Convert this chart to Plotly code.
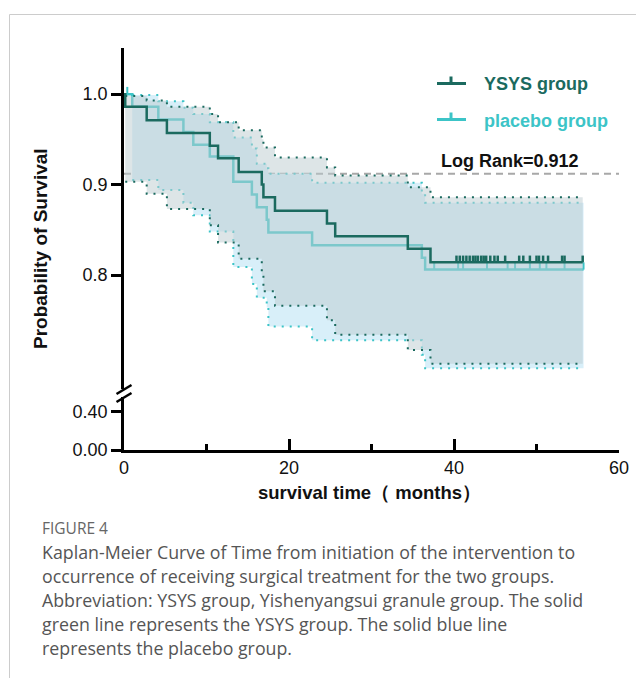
import plotly.graph_objects as go

# ---------------- data ----------------
# YSYS group Kaplan-Meier steps
ysys_times = [0.0, 0.15, 2.75, 5.2, 10.4, 11.4, 13.9, 16.7, 16.9, 18.3, 24.6, 25.6, 34.4, 37.15]
ysys_surv = [1.0, 0.986, 0.971, 0.957, 0.943, 0.929, 0.914, 0.900, 0.886, 0.871, 0.857, 0.843, 0.829, 0.814]
ysys_upper = [1.0, 0.998, 0.993, 0.986, 0.978, 0.969, 0.960, 0.950, 0.941, 0.930, 0.919, 0.910, 0.897, 0.886]
ysys_lower = [1.0, 0.903, 0.890, 0.873, 0.855, 0.836, 0.818, 0.800, 0.782, 0.766, 0.750, 0.734, 0.717, 0.702]
ysys_end = 55.6
ysys_censor = [40.3, 40.7, 41.1, 41.5, 41.9, 42.3, 42.6, 42.9, 43.3, 43.6, 43.9, 44.4, 44.9, 45.3,
               46.2, 47.9, 48.4, 49.2, 50.0, 50.3, 50.8, 51.4, 53.1, 53.4, 55.6]

# placebo group Kaplan-Meier steps
plac_times = [0.0, 1.0, 4.16, 7.2, 8.4, 10.4, 13.25, 15.5, 16.1, 17.3, 17.5, 22.8, 36.1, 36.5]
plac_surv = [1.0, 0.986, 0.972, 0.958, 0.944, 0.931, 0.903, 0.889, 0.875, 0.861, 0.847, 0.833, 0.819, 0.806]
plac_upper = [1.0, 0.999, 0.992, 0.985, 0.978, 0.969, 0.952, 0.940, 0.923, 0.918, 0.912, 0.902, 0.890, 0.880]
plac_lower = [1.0, 0.905, 0.894, 0.880, 0.866, 0.848, 0.809, 0.790, 0.775, 0.764, 0.743, 0.728, 0.712, 0.697]
plac_end = 55.7
plac_censor = [0.4, 37.6, 40.5, 41.1, 44.0, 46.5, 47.4, 49.2, 50.4, 51.2, 53.4, 55.7]

log_rank_p = 0.912
x_ticks = [0, 20, 40, 60]
x_minor_ticks = [10, 30, 50]
y_upper_ticks = [0.8, 0.9, 1.0]
y_upper_labels = ["0.8", "0.9", "1.0"]
y_lower_ticks = [0.0, 0.4]
y_lower_labels = ["0.00", "0.40"]

caption_title = "FIGURE 4"
caption_lines = [
    "Kaplan-Meier Curve of Time from initiation of the intervention to",
    "occurrence of receiving surgical treatment for the two groups.",
    "Abbreviation: YSYS group, Yishenyangsui granule group. The solid",
    "green line represents the YSYS group. The solid blue line",
    "represents the placebo group.",
]

# ---------------- style ----------------
DARK = "#1b6a5f"
CYAN = "#3cc4c7"
PLAC_FILL = "#d8eff9"
YSYS_FILL = "rgba(188,203,207,0.5)"
FONT = "Liberation Sans"
CAP_FONT = "Open Sans"

# the page body adds an 8px margin; lay out in window pixels and compensate
OFF = 8
W, H = 644 - OFF, 678 - OFF
PLOT_L, PLOT_R, PLOT_T, PLOT_B = 124, 619, 48, 450   # window pixels
ML, MT = PLOT_L - OFF, PLOT_T - OFF
MR, MB = W - (PLOT_R - OFF), H - (PLOT_B - OFF)
PW, PH = PLOT_R - PLOT_L, PLOT_B - PLOT_T


def fx(px):
    return (px - PLOT_L) / PW


def fy(py):
    return (PLOT_B - py) / PH


# broken y axis: upper part (0.674 .. 1.051), lower part (0 .. 0.5535)
UP_BOTTOM_PX, LOW_TOP_PX = 389, 397
upper_domain = [fy(UP_BOTTOM_PX), 1.0]
lower_domain = [0.0, fy(LOW_TOP_PX)]
upper_range = [0.674, 1.051]
lower_range = [0.0, 0.5535]


def step_path(times, vals, end):
    xs, ys = [], []
    for i, v in enumerate(vals):
        t1 = times[i + 1] if i + 1 < len(times) else end
        xs += [times[i], t1]
        ys += [v, v]
    return xs, ys


def band(times, lo, hi, end, start=1):
    xu, yu = step_path(times[start:], hi[start:], end)
    xl, yl = step_path(times[start:], lo[start:], end)
    return xu + xl[::-1], yu + yl[::-1]


def level_at(times, vals, t):
    v = vals[0]
    for ti, vi in zip(times, vals):
        if ti <= t:
            v = vi
    return v


def censor_path(times, vals, cens, h):
    xs, ys = [], []
    for c in cens:
        s = level_at(times, vals, c)
        xs += [c, c, None]
        ys += [s, s + h, None]
    return xs, ys


fig = go.Figure()

# empty trace so the lower (broken) axis subplot exists
fig.add_trace(go.Scatter(x=[None], y=[None], mode="lines", xaxis="x", yaxis="y",
                         hoverinfo="skip", showlegend=False))

# log rank dashed reference line (below everything)
fig.add_trace(go.Scatter(x=[0, 60], y=[log_rank_p, log_rank_p], mode="lines",
                         line=dict(color="#a8a8a8", width=2, dash="7px,5px"),
                         xaxis="x", yaxis="y2", hoverinfo="skip", showlegend=False))

# placebo band (opaque), CI lines, KM line
bx, by = band(plac_times, plac_lower, plac_upper, plac_end)
fig.add_trace(go.Scatter(x=bx, y=by, fill="toself", fillcolor=PLAC_FILL, mode="none",
                         xaxis="x", yaxis="y2", hoverinfo="skip", showlegend=False))
for arr in (plac_upper, plac_lower):
    sx, sy = step_path(plac_times[1:], arr[1:], plac_end)
    fig.add_trace(go.Scatter(x=sx, y=sy, mode="lines",
                             line=dict(color=CYAN, width=2, dash="2px,6px"),
                             xaxis="x", yaxis="y2", hoverinfo="skip", showlegend=False))
kx, ky = step_path(plac_times, plac_surv, plac_end)
fig.add_trace(go.Scatter(x=kx, y=ky, mode="lines", line=dict(color=CYAN, width=2.5),
                         xaxis="x", yaxis="y2", name="placebo group", showlegend=False))
cx, cy = censor_path(plac_times, plac_surv, plac_censor, 0.008)
fig.add_trace(go.Scatter(x=cx, y=cy, mode="lines", line=dict(color=CYAN, width=2),
                         xaxis="x", yaxis="y2", hoverinfo="skip", showlegend=False))

# YSYS band (semi-transparent), CI lines, KM line
bx, by = band(ysys_times, ysys_lower, ysys_upper, ysys_end)
fig.add_trace(go.Scatter(x=bx, y=by, fill="toself", fillcolor=YSYS_FILL, mode="none",
                         xaxis="x", yaxis="y2", hoverinfo="skip", showlegend=False))
for arr in (ysys_upper, ysys_lower):
    sx, sy = step_path(ysys_times[1:], arr[1:], ysys_end)
    fig.add_trace(go.Scatter(x=sx, y=sy, mode="lines",
                             line=dict(color=DARK, width=2, dash="2px,6px"),
                             xaxis="x", yaxis="y2", hoverinfo="skip", showlegend=False))
kx, ky = step_path(ysys_times, ysys_surv, ysys_end)
fig.add_trace(go.Scatter(x=kx, y=ky, mode="lines", line=dict(color=DARK, width=2.5),
                         xaxis="x", yaxis="y2", name="YSYS group", showlegend=False))
cx, cy = censor_path(ysys_times, ysys_surv, ysys_censor, 0.0075)
fig.add_trace(go.Scatter(x=cx, y=cy, mode="lines", line=dict(color=DARK, width=2.5),
                         xaxis="x", yaxis="y2", hoverinfo="skip", showlegend=False))

axis_common = dict(showline=True, linecolor="black", linewidth=2.5, showgrid=False,
                   zeroline=False, automargin=False,
                   tickfont=dict(family=FONT, size=18, color="#111"),
                   tickcolor="black", tickwidth=2.5)

fig.update_layout(
    width=W, height=H,
    margin=dict(l=ML, r=MR, t=MT, b=MB, autoexpand=False),
    paper_bgcolor="white", plot_bgcolor="white",
    showlegend=False,
    xaxis=dict(range=[0, 60], tickvals=x_ticks, ticks="inside", ticklen=11,
               anchor="y",
               minor=dict(tickvals=x_minor_ticks, ticks="inside", ticklen=6,
                          tickwidth=2.5, tickcolor="black"),
               **axis_common),
    yaxis=dict(domain=lower_domain, range=lower_range, tickvals=y_lower_ticks,
               ticktext=y_lower_labels, ticks="outside", ticklen=10, anchor="x",
               **axis_common),
    yaxis2=dict(domain=upper_domain, range=upper_range, tickvals=y_upper_ticks,
                ticktext=y_upper_labels, ticks="outside", ticklen=10, anchor="x",
                **axis_common),
)

shapes = []
# axis break marks
for cpy in (UP_BOTTOM_PX + 0.5, LOW_TOP_PX + 0.5):
    shapes.append(dict(type="line", xref="paper", yref="paper",
                       x0=fx(PLOT_L - 7.5), y0=fy(cpy + 4.5), x1=fx(PLOT_L + 7.5), y1=fy(cpy - 4.5),
                       line=dict(color="black", width=2.5)))
# legend symbols
for ly, col in ((83.5, DARK), (119.5, CYAN)):
    shapes.append(dict(type="line", xref="paper", yref="paper",
                       x0=fx(437), y0=fy(ly), x1=fx(466), y1=fy(ly),
                       line=dict(color=col, width=3)))
    shapes.append(dict(type="line", xref="paper", yref="paper",
                       x0=fx(451), y0=fy(ly), x1=fx(451), y1=fy(ly - 7),
                       line=dict(color=col, width=3)))
# page frame
shapes.append(dict(type="line", xref="paper", yref="paper", x0=fx(9.5), y0=fy(14.5),
                   x1=fx(660), y1=fy(14.5), line=dict(color="#cccccc", width=1)))
shapes.append(dict(type="line", xref="paper", yref="paper", x0=fx(9.5), y0=fy(14.5),
                   x1=fx(9.5), y1=fy(700), line=dict(color="#cccccc", width=1)))
fig.update_layout(shapes=shapes)

ann = []
ann.append(dict(text="<b>YSYS group</b>", x=fx(482), y=fy(84), xref="paper", yref="paper",
                xanchor="left", yanchor="middle", showarrow=False,
                font=dict(family=FONT, size=18, color=DARK)))
ann.append(dict(text="<b>placebo group</b>", x=fx(482), y=fy(121), xref="paper", yref="paper",
                xanchor="left", yanchor="middle", showarrow=False,
                font=dict(family=FONT, size=18, color=CYAN)))
ann.append(dict(text=f"<b>Log Rank={log_rank_p}</b>", x=fx(439), y=fy(161), xref="paper",
                yref="paper", xanchor="left", yanchor="middle", showarrow=False,
                font=dict(family=FONT, size=18, color="#111")))
ann.append(dict(text="<b>Probability of Survival</b>", x=fx(40), y=fy(249), xref="paper",
                yref="paper", xanchor="center", yanchor="middle", textangle=-90,
                showarrow=False, font=dict(family=FONT, size=19, color="#111")))
ann.append(dict(text="<b>survival time（ months）</b>", x=fx(369), y=fy(492), xref="paper",
                yref="paper", xanchor="center", yanchor="middle", showarrow=False,
                font=dict(family=FONT, size=18.5, color="#111")))
ann.append(dict(text=caption_title, x=fx(40), y=fy(528), xref="paper", yref="paper",
                xanchor="left", yanchor="middle", showarrow=False,
                font=dict(family=CAP_FONT, size=15.5, color="#666")))
for i, line in enumerate(caption_lines):
    ann.append(dict(text=line, x=fx(40), y=fy(552 + 24 * i), xref="paper", yref="paper",
                    xanchor="left", yanchor="middle", showarrow=False,
                    font=dict(family=CAP_FONT, size=17.8, color="#555")))
fig.update_layout(annotations=ann)

fig.write_html("out.html")
